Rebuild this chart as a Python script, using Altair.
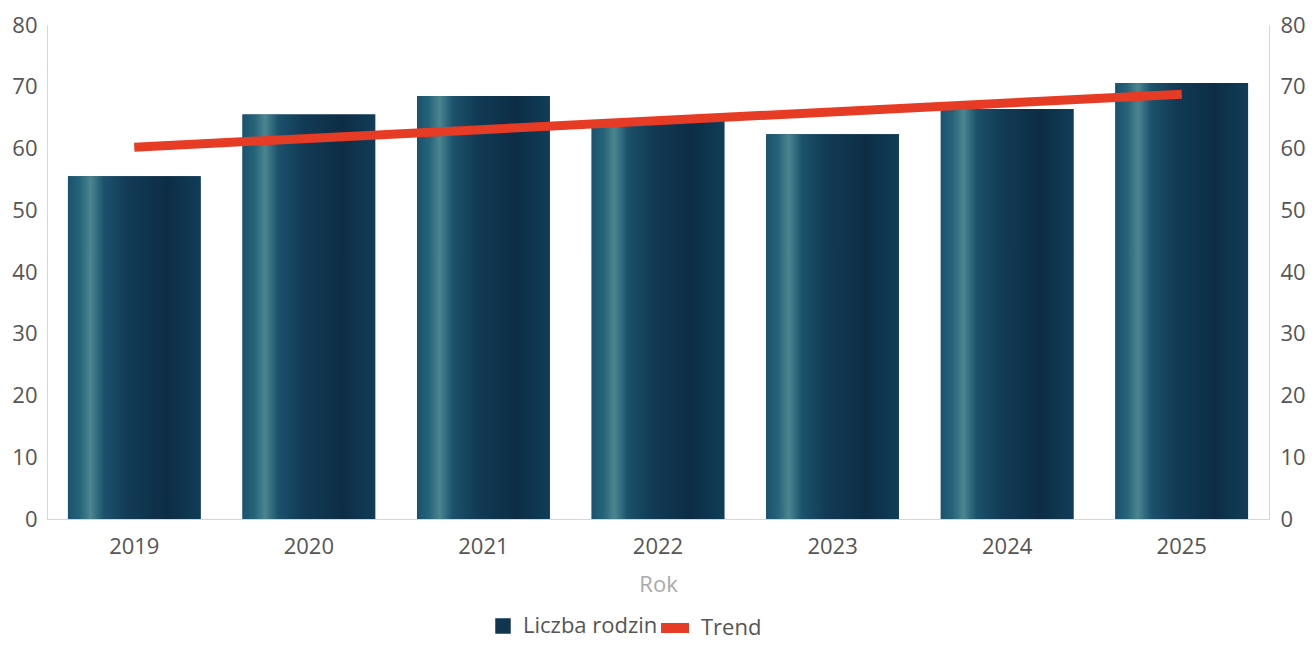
import altair as alt
import pandas as pd

years = ["2019", "2020", "2021", "2022", "2023", "2024", "2025"]
families = [55.5, 65.5, 68.5, 64.6, 62.3, 66.4, 70.6]
trend_years = ["2019", "2025"]
trend_values = [60.2, 68.8]
bar_series = "Liczba rodzin"
trend_series = "Trend"
y_ticks = [0, 10, 20, 30, 40, 50, 60, 70, 80]

bars_df = pd.DataFrame({"Rok": years, "value": families, "series": bar_series})
trend_df = pd.DataFrame({"Rok": trend_years, "value": trend_values, "series": trend_series})

FONT = "Open Sans"
LABEL = "#555555"
AXISLINE = "#d6d6d6"
FS = 22

x_enc = alt.X(
    "Rok:O",
    sort=years,
    scale=alt.Scale(domain=years, paddingInner=0.24, paddingOuter=0.12),
    axis=alt.Axis(title="Rok", labelAngle=0, ticks=False, tickSize=0, labelPadding=17,
                  titlePadding=17, domainColor=AXISLINE, grid=False),
)
y_scale = alt.Scale(domain=[0, 80], nice=False, zero=True)

gradient = alt.Gradient(
    gradient="linear", x1=0, x2=1, y1=0, y2=0,
    stops=[
        alt.GradientStop(offset=0.0, color="#1a5270"),
        alt.GradientStop(offset=0.09, color="#266479"),
        alt.GradientStop(offset=0.17, color="#4b8590"),
        alt.GradientStop(offset=0.27, color="#1c526c"),
        alt.GradientStop(offset=0.45, color="#123b56"),
        alt.GradientStop(offset=0.75, color="#0d2d45"),
        alt.GradientStop(offset=1.0, color="#113d58"),
    ],
)

bars_flat = alt.Chart(bars_df).mark_bar().encode(
    x=x_enc,
    y=alt.Y("value:Q", scale=y_scale,
            axis=alt.Axis(orient="left", values=y_ticks, title=None, ticks=False, tickSize=0,
                          labelPadding=10, domainColor=AXISLINE, grid=False)),
    color=alt.Color("series:N", scale=alt.Scale(domain=[bar_series], range=["#0f3550"]),
                    legend=alt.Legend(title=None, orient="none", legendX=445, legendY=590,
                                      direction="horizontal", symbolType="square", symbolSize=240,
                                      symbolStrokeWidth=0, labelOffset=9, padding=0)),
)

bars_grad = alt.Chart(bars_df).mark_bar(color=gradient).encode(
    x=x_enc,
    y=alt.Y("value:Q", scale=y_scale, axis=None),
)

trend = alt.Chart(trend_df).mark_line(strokeWidth=9, strokeCap="butt").encode(
    x=x_enc,
    y=alt.Y("value:Q", scale=y_scale,
            axis=alt.Axis(orient="right", values=y_ticks, title=None, ticks=False, tickSize=0,
                          labelPadding=11, domainColor=AXISLINE, grid=False)),
    stroke=alt.Stroke("series:N", scale=alt.Scale(domain=[trend_series], range=["#e63b25"]),
                      legend=alt.Legend(title=None, orient="none", legendX=609, legendY=584,
                                        direction="horizontal", symbolType="stroke", symbolSize=784,
                                        symbolStrokeWidth=10, labelOffset=7, padding=0)),
)

chart = (
    alt.layer(bars_flat, bars_grad, trend)
    .resolve_scale(y="independent", color="independent", stroke="independent")
    .properties(width=1222, height=494,
                autosize=alt.AutoSizeParams(type="none"),
                padding={"left": 39, "top": 17, "right": 38, "bottom": 121},
                background="white")
    .configure_view(stroke=None)
    .configure_axis(labelFont=FONT, titleFont=FONT, labelFontSize=FS, titleFontSize=FS,
                    labelColor=LABEL, titleColor="#aaaaaa", titleFontWeight="normal")
    .configure_legend(labelFont=FONT, labelFontSize=FS, labelColor=LABEL)
)

chart.save("out.html", embed_options={"renderer": "svg", "actions": False})
